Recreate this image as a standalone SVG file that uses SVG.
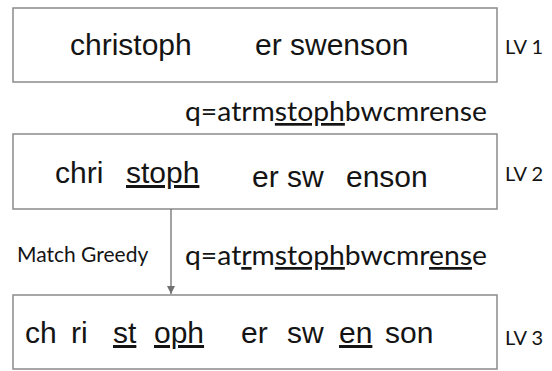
<svg xmlns="http://www.w3.org/2000/svg" width="552" height="371" viewBox="0 0 552 371">
  <defs>
    <style>
      .box { fill: #ffffff; stroke: #8a8a8a; stroke-width: 1.5; }
      .word { font-family: "Liberation Sans", Arial, sans-serif; font-size: 30px; fill: #141414; }
      .lbl { font-family: Lato, "Open Sans", sans-serif; fill: #141414; }
      .lv { font-size: 20px; }
      .q { font-size: 27px; }
      .u { text-decoration: underline; }
      .conn { stroke: #707070; stroke-width: 1.3; fill: none; }
    </style>
    <marker id="arrow" viewBox="0 0 10 10" refX="10" refY="5" markerWidth="8" markerHeight="8" markerUnits="userSpaceOnUse" orient="auto">
      <path d="M0,0 L10,5 L0,10 Z" fill="#707070"/>
    </marker>
  </defs>
  <rect width="552" height="371" fill="#ffffff"/>

  <!-- level 1 -->
  <g id="lv1">
    <rect class="box" x="13" y="8" width="484" height="74"/>
    <text class="word" x="70" y="55">christoph</text>
    <text class="word" x="255" y="55">er swenson</text>
    <text class="lbl lv" x="505" y="54">LV 1</text>
  </g>

  <text id="q1" class="lbl q" x="185" y="121" textLength="302" lengthAdjust="spacingAndGlyphs">q=atrm<tspan class="u">stoph</tspan>bwcmrense</text>

  <!-- level 2 -->
  <g id="lv2">
    <rect class="box" x="13" y="134" width="484" height="75"/>
    <text class="word" x="55" y="183">chri</text>
    <text class="word u" x="126" y="183">stoph</text>
    <text class="word" x="252" y="187">er sw</text>
    <text class="word" x="346" y="187">enson</text>
    <text class="lbl lv" x="505" y="181">LV 2</text>
  </g>

  <!-- connector -->
  <g id="connectors">
    <line class="conn" x1="171" y1="209" x2="171" y2="294" marker-end="url(#arrow)"/>
  </g>

  <text id="match" class="lbl" x="17" y="262" font-size="21">Match Greedy</text>
  <text id="q2" class="lbl q" x="185" y="265" textLength="302" lengthAdjust="spacingAndGlyphs">q=at<tspan class="u">r</tspan>m<tspan class="u">stoph</tspan>bwcmr<tspan class="u">ens</tspan>e</text>

  <!-- level 3 -->
  <g id="lv3">
    <rect class="box" x="13" y="295" width="484" height="74"/>
    <text class="word" x="25" y="343">ch</text>
    <text class="word" x="71" y="343">ri</text>
    <text class="word u" x="113" y="343">st</text>
    <text class="word u" x="154" y="343">oph</text>
    <text class="word" x="241" y="343">er</text>
    <text class="word" x="287" y="343">sw</text>
    <text class="word u" x="339" y="343">en</text>
    <text class="word" x="385" y="343">son</text>
    <text class="lbl lv" x="505" y="345">LV 3</text>
  </g>
</svg>
